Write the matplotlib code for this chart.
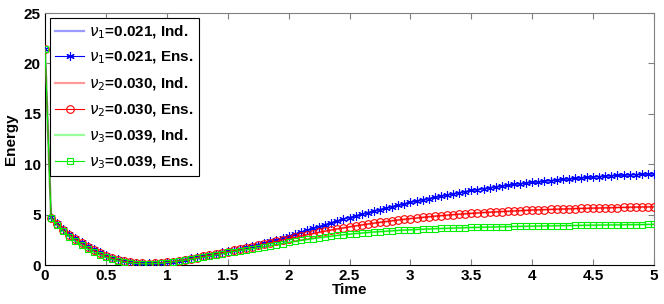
import numpy as np
import matplotlib
matplotlib.use("Agg")
import matplotlib.pyplot as plt

plt.rcParams['font.family'] = ['Liberation Sans', 'DejaVu Sans']
plt.rcParams['mathtext.fontset'] = 'dejavusans'

time = [round(0.05 * i, 2) for i in range(101)]

energy_nu1 = [21.4, 4.75, 4.15, 3.6, 3.1, 2.65, 2.25, 1.88, 1.55, 1.25,
              0.98, 0.75, 0.57, 0.42, 0.31, 0.23, 0.18, 0.16, 0.17, 0.21,
              0.27, 0.35, 0.45, 0.55, 0.66, 0.78, 0.9, 1.02, 1.14, 1.26,
              1.38, 1.5, 1.63, 1.76, 1.9, 2.04, 2.19, 2.35, 2.52, 2.7,
              2.88, 3.06, 3.25, 3.44, 3.63, 3.82, 4.01, 4.2, 4.38, 4.56,
              4.72, 4.88, 5.04, 5.2, 5.36, 5.51, 5.66, 5.8, 5.94, 6.08,
              6.22, 6.35, 6.48, 6.6, 6.72, 6.84, 6.96, 7.07, 7.18, 7.29,
              7.4, 7.49, 7.58, 7.67, 7.76, 7.84, 7.92, 8.0, 8.07, 8.14,
              8.2, 8.26, 8.32, 8.38, 8.44, 8.5, 8.55, 8.6, 8.65, 8.7,
              8.74, 8.78, 8.82, 8.86, 8.89, 8.92, 8.95, 8.98, 9.01, 9.03,
              9.05]

energy_nu2 = [21.4, 4.72, 4.1, 3.52, 3.0, 2.55, 2.15, 1.78, 1.45, 1.16,
              0.9, 0.68, 0.51, 0.37, 0.27, 0.2, 0.16, 0.15, 0.17, 0.21,
              0.27, 0.35, 0.44, 0.54, 0.64, 0.75, 0.86, 0.98, 1.1, 1.21,
              1.33, 1.45, 1.57, 1.7, 1.83, 1.96, 2.09, 2.22, 2.36, 2.5,
              2.63, 2.76, 2.89, 3.01, 3.13, 3.25, 3.37, 3.48, 3.59, 3.69,
              3.79, 3.89, 3.98, 4.07, 4.16, 4.24, 4.32, 4.4, 4.47, 4.54,
              4.61, 4.67, 4.73, 4.79, 4.85, 4.9, 4.95, 5.0, 5.05, 5.09,
              5.13, 5.17, 5.21, 5.25, 5.28, 5.31, 5.34, 5.37, 5.4, 5.43,
              5.46, 5.48, 5.5, 5.52, 5.54, 5.56, 5.58, 5.6, 5.62, 5.63,
              5.65, 5.66, 5.68, 5.69, 5.71, 5.72, 5.74, 5.75, 5.76, 5.77,
              5.78]

energy_nu3 = [21.4, 4.65, 3.95, 3.35, 2.82, 2.36, 1.96, 1.6, 1.28, 1.0,
              0.76, 0.56, 0.41, 0.29, 0.21, 0.15, 0.12, 0.12, 0.14, 0.18,
              0.24, 0.31, 0.39, 0.48, 0.57, 0.67, 0.77, 0.87, 0.98, 1.1,
              1.25, 1.34, 1.43, 1.52, 1.62, 1.72, 1.82, 1.92, 2.03, 2.14,
              2.25, 2.35, 2.45, 2.54, 2.63, 2.71, 2.79, 2.87, 2.94, 3.01,
              3.07, 3.13, 3.18, 3.23, 3.28, 3.32, 3.36, 3.4, 3.44, 3.47,
              3.5, 3.53, 3.56, 3.58, 3.61, 3.63, 3.65, 3.67, 3.69, 3.71,
              3.73, 3.74, 3.76, 3.77, 3.79, 3.8, 3.81, 3.83, 3.84, 3.85,
              3.86, 3.87, 3.88, 3.89, 3.9, 3.91, 3.92, 3.93, 3.94, 3.95,
              3.96, 3.97, 3.98, 3.98, 3.99, 4.0, 4.01, 4.01, 4.02, 4.03,
              4.04]

labels_ind = [r'$\nu_1$=0.021, Ind.', r'$\nu_2$=0.030, Ind.', r'$\nu_3$=0.039, Ind.']
labels_ens = [r'$\nu_1$=0.021, Ens.', r'$\nu_2$=0.030, Ens.', r'$\nu_3$=0.039, Ens.']
colors = ['#0000ff', '#ff0000', '#00ee00']
light = ['#9a9aff', '#ff9a9a', '#9aff9a']
markers = [(6, 2, 0), 'o', 's']
msizes = [6, 5.5, 5]
series = [energy_nu1, energy_nu2, energy_nu3]

fig = plt.figure(figsize=(6.64, 3.04), dpi=100)
ax = fig.add_axes([0.0678, 0.128, 0.9172, 0.829])

for i in range(3):
    ax.plot(time, series[i], color=light[i], lw=1.6, label=labels_ind[i], zorder=2)
    ax.plot(time, series[i], color=colors[i], lw=0.8, marker=markers[i],
            markersize=msizes[i], markerfacecolor='none', markeredgewidth=0.8,
            label=labels_ens[i], zorder=3)

handles, labs = ax.get_legend_handles_labels()
ax.set_xlim(0, 5)
ax.set_ylim(0, 25)
ax.set_xticks(np.arange(0, 5.01, 0.5))
ax.set_xticklabels(['0', '0.5', '1', '1.5', '2', '2.5', '3', '3.5', '4', '4.5', '5'])
ax.set_yticks([0, 5, 10, 15, 20, 25])
ax.tick_params(direction='in', length=4, labelsize=11, colors='#808080',
               labelcolor='black', top=True, right=True, pad=3)
for lab in ax.get_xticklabels() + ax.get_yticklabels():
    lab.set_fontweight('bold')
for s in ['top', 'right']:
    ax.spines[s].set_color('#808080')
for s in ['left', 'bottom']:
    ax.spines[s].set_color('black')
ax.set_xlabel('Time', fontsize=11, fontweight='bold', labelpad=0)
ax.set_ylabel('Energy', fontsize=11, fontweight='bold', labelpad=4)

leg = ax.legend(handles, labs, loc='upper left', bbox_to_anchor=(0.008, 0.98),
                borderaxespad=0, fancybox=False, framealpha=1, edgecolor='black',
                prop={'weight': 'bold', 'size': 11}, handlelength=1.9,
                labelspacing=0.6, borderpad=0.35, handletextpad=0.3)
leg.get_frame().set_linewidth(0.8)

fig.savefig('out.png', dpi=100)
